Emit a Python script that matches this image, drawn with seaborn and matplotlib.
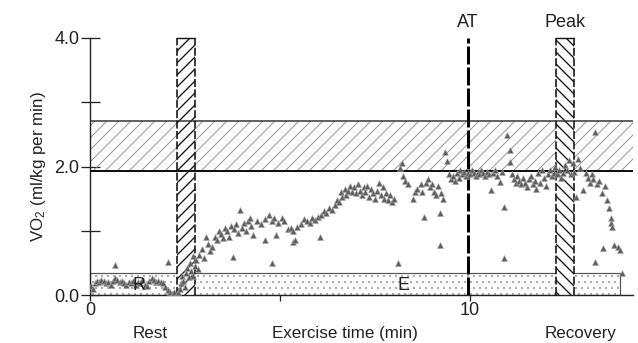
import matplotlib
matplotlib.use("Agg")
import matplotlib.pyplot as plt
import matplotlib.patches as mpatches
import matplotlib.transforms as mtransforms
import seaborn as sns
import pandas as pd

# ---------------- data ----------------
time_min = [
    0.02, 0.08, 0.13, 0.18, 0.24, 0.30, 0.36, 0.42, 0.48, 0.55, 0.60, 0.66, 0.72, 0.78, 0.84, 0.90,
    0.96, 1.02, 1.08, 1.14, 1.20, 1.26, 1.32, 1.38, 1.44, 1.50, 1.56, 1.62, 1.68, 1.74, 1.80, 1.86,
    1.92, 1.98, 2.04, 2.10, 2.16, 2.20, 0.66, 2.05,
    2.28, 2.32, 2.36, 2.40, 2.42, 2.46, 2.50, 2.52, 2.56, 2.60, 2.62, 2.66, 2.70, 2.72, 2.76, 2.80,
    2.84, 2.88,
    2.95, 3.00, 3.05, 3.10, 3.15, 3.20, 3.28, 3.35, 3.40, 3.45, 3.50, 3.55, 3.60, 3.65, 3.72, 3.78,
    3.85, 3.90, 3.95, 4.00, 4.05, 4.10, 4.15, 4.20, 4.25, 4.30, 4.40, 4.50, 4.60, 4.70, 4.78, 4.85,
    4.90, 4.95, 4.80, 3.76, 5.35, 4.60,
    5.05, 5.10, 5.20, 5.28, 5.35, 5.40, 5.45, 5.55, 5.62, 5.70, 5.78, 5.85, 5.92, 6.00, 6.05, 6.08,
    6.15, 6.22, 6.30, 6.38, 6.45, 6.50, 6.55, 6.60, 6.62, 6.70, 6.75, 6.80, 6.85, 6.90, 6.95, 7.00,
    7.05, 7.10, 7.15, 7.20, 7.25, 7.30, 7.35, 7.40, 7.45, 7.50, 7.55, 7.60, 7.65, 7.70, 7.75, 7.80,
    7.85, 7.90, 7.95, 8.00, 8.10,
    8.15, 8.20, 8.25, 8.30, 8.38, 8.50, 8.55, 8.60, 8.70, 8.75, 8.80, 8.85, 8.90, 8.95, 9.00, 9.05,
    9.10, 9.15, 9.20, 9.20, 9.25, 9.30, 9.35, 9.40, 9.45, 9.50, 9.55, 9.60, 9.65, 9.70, 9.75, 9.80,
    9.85, 9.90, 9.95,
    10.00, 10.05, 10.10, 10.15, 10.20, 10.25, 10.30, 10.35, 10.40, 10.45, 10.50, 10.55, 10.60, 10.65,
    10.70, 10.80, 10.85, 10.90, 10.90, 10.97, 11.05, 11.05, 11.10, 11.15, 11.20, 11.25, 11.30, 11.35,
    11.40, 11.45, 11.50, 11.55, 11.60, 11.65, 11.70, 11.75, 11.80, 11.85, 11.90, 11.95, 12.00, 12.05,
    12.10, 12.15, 12.20, 12.25, 12.30, 12.35, 12.40, 12.45, 12.50, 12.55, 12.60, 12.65, 12.70, 12.75,
    12.80, 12.85, 12.90, 12.97,
    13.05, 13.10, 13.15, 13.20, 13.25, 13.30, 13.30, 13.35, 13.40, 13.47, 13.50, 13.55, 13.60, 13.65,
    13.70, 13.72, 13.74, 13.80, 13.90, 13.95, 14.00,
]
vo2 = [
    0.14, 0.10, 0.18, 0.22, 0.20, 0.24, 0.22, 0.18, 0.20, 0.16, 0.22, 0.26, 0.24, 0.20, 0.22, 0.18,
    0.16, 0.20, 0.18, 0.22, 0.15, 0.20, 0.18, 0.24, 0.16, 0.14, 0.22, 0.26, 0.24, 0.20, 0.22, 0.20,
    0.18, 0.12, 0.08, 0.04, 0.02, 0.05, 0.46, 0.52,
    0.00, 0.05, 0.10, 0.18, 0.30, 0.22, 0.12, 0.35, 0.42, 0.28, 0.50, 0.38, 0.30, 0.60, 0.45, 0.55,
    0.40, 0.62,
    0.72, 0.58, 0.90, 0.80, 0.68, 0.75, 0.90, 0.85, 1.00, 0.95, 0.88, 1.05, 1.00, 0.90, 1.08, 1.02,
    1.10, 0.97, 1.32, 1.05, 1.12, 1.00, 1.15, 1.20, 1.08, 0.94, 1.15, 1.10, 1.18, 1.25, 1.15, 1.20,
    0.93, 1.12, 0.50, 0.59, 0.83, 0.86,
    1.20, 1.15, 1.02, 1.05, 1.00, 0.86, 1.06, 1.10, 1.18, 1.15, 1.12, 1.20, 1.16, 1.22, 0.90, 1.25,
    1.30, 1.28, 1.35, 1.32, 1.40, 1.48, 1.45, 1.60, 1.52, 1.65, 1.55, 1.62, 1.70, 1.60, 1.68, 1.58,
    1.72, 1.62, 1.55, 1.68, 1.60, 1.70, 1.52, 1.65, 1.58, 1.50, 1.62, 1.75, 1.55, 1.68, 1.50, 1.58,
    1.48, 1.55, 1.45, 1.50, 0.50,
    1.98, 2.05, 1.85, 1.78, 1.72, 1.50, 1.60, 1.65, 1.72, 1.60, 1.22, 1.75, 1.80, 1.68, 1.72, 1.60,
    1.55, 1.70, 1.27, 0.78, 1.58, 1.50, 2.22, 2.08, 1.88, 1.80, 1.85, 1.78, 1.90, 1.82, 1.95, 1.88,
    1.92, 1.85, 1.90,
    1.88, 1.95, 1.90, 1.85, 1.92, 1.88, 1.95, 1.90, 1.85, 1.92, 1.88, 1.63, 1.90, 1.95,
    1.85, 1.76, 1.92, 1.37, 0.58, 2.49, 2.26, 2.07, 1.88, 1.80, 1.75, 1.85, 1.78, 1.72,
    1.82, 1.75, 1.68, 1.80, 1.85, 1.72, 1.78, 1.65, 1.90, 1.75, 1.95, 1.82, 1.70, 1.88,
    1.95, 1.85, 1.90, 2.00, 1.88, 1.95, 1.82, 1.90, 2.02, 1.95, 2.10, 1.88, 2.05, 1.92,
    1.53, 2.12, 1.98, 1.63,
    1.90, 1.82, 1.75, 1.88, 1.80, 2.54, 0.52, 1.72, 1.78, 1.59, 0.73, 1.70, 1.48, 1.35,
    1.20, 1.12, 1.06, 0.78, 0.74, 0.70, 0.34,
]
df = pd.DataFrame({"time": time_min, "vo2": vo2})

hband = (1.93, 2.71)          # horizontal hatched band (VO2)
rest_band = (2.29, 2.76)      # dashed hatched band after rest
at_time = 9.95                # anaerobic threshold
peak_band = (12.26, 12.74)    # peak band
phase_box = (0.0, 13.95, 0.35)  # stippled phase box (x0, x1, height)
phase_letters = [("R", 1.3), ("E", 8.25)]
bottom_labels = [("Rest", 1.58), ("Exercise time (min)", 6.7), ("Recovery", 12.9)]
top_labels = [("AT", 9.95), ("Peak", 12.5)]

# ---------------- figure ----------------
sns.set_style("white")
plt.rcParams["font.family"] = ["Liberation Sans", "DejaVu Sans"]
DPI = 72
FS = 18
fig = plt.figure(figsize=(638 / DPI, 343 / DPI), dpi=DPI)
ax = fig.add_axes([90 / 638, 48 / 343, 543 / 638, 257 / 343])
ax.set_xlim(0, 543 / 38)
ax.set_ylim(0, 4.0)

def hatch_lw(p, lw):
    try:
        p.set_hatch_linewidth(lw)
    except Exception:
        pass

# horizontal hatched band
p = mpatches.Rectangle((0, hband[0]), 543 / 38, hband[1] - hband[0], facecolor="none",
                       edgecolor="#8a8a8a", hatch="//", linewidth=0, zorder=1)
hatch_lw(p, 0.9)
ax.add_patch(p)
ax.axhline(hband[0], color="#111111", lw=2.0, zorder=4)
ax.axhline(hband[1], color="#333333", lw=1.5, zorder=4)

# stippled phase box
p = mpatches.Rectangle((phase_box[0], 0), phase_box[1] - phase_box[0], phase_box[2],
                       facecolor="white", edgecolor="#a8a8a8", hatch="..", linewidth=0, zorder=1)
ax.add_patch(p)
ax.add_patch(mpatches.Rectangle((phase_box[0], 0), phase_box[1] - phase_box[0], phase_box[2],
                                facecolor="none", edgecolor="#555555", linewidth=1.2, zorder=2))

# vertical bands
for (x0, x1), h in [(rest_band, "//"), (peak_band, "\\\\")]:
    p = mpatches.Rectangle((x0, 0), x1 - x0, 4.0, facecolor="white", edgecolor="#111111",
                           hatch=h, linewidth=0, zorder=2)
    hatch_lw(p, 1.3)
    ax.add_patch(p)
    for xx in (x0, x1):
        ax.axvline(xx, color="#111111", lw=1.6, ls=(0, (5, 1.5)), zorder=5)
    ax.plot([x0, x1], [4.0, 4.0], color="#111111", lw=1.4, zorder=5, clip_on=False)

# AT line
ax.axvline(at_time, color="black", lw=3.0, ls=(0, (6, 1)), zorder=5)

# scatter
sns.scatterplot(data=df, x="time", y="vo2", marker="^", s=36, color="#5e5e5e",
                edgecolor="#a8a8a8", linewidth=0.5, ax=ax, zorder=6, legend=False)

for txt, xx in phase_letters:
    ax.text(xx, 0.15, txt, fontsize=FS, ha="center", va="center", color="#222222", zorder=7)

# axes styling
for s in ("top", "right"):
    ax.spines[s].set_visible(False)
for s in ("left", "bottom"):
    ax.spines[s].set_color("#222222")
    ax.spines[s].set_linewidth(1.4)
ax.set_yticks([0, 2, 4])
ax.set_yticklabels(["0.0", "2.0", "4.0"])
ax.set_yticks([1, 3], minor=True)
ax.set_xticks([0, 10])
ax.set_xticklabels(["0", "10"])
ax.set_xticks([5], minor=True)
ax.tick_params(axis="y", which="both", direction="inout", length=19, width=1.3,
               labelsize=FS, pad=1, colors="#222222", left=True)
ax.tick_params(axis="x", which="both", direction="out", length=6, width=1.3,
               labelsize=FS, pad=1, colors="#222222", bottom=True)
ax.set_xlabel("")
ax.set_ylabel(r"V$\mathregular{O_2}$ (ml/kg per min)", fontsize=17, color="#222222", labelpad=6)

trans = mtransforms.blended_transform_factory(ax.transData, ax.transAxes)
for txt, xx in bottom_labels:
    ax.text(xx, -0.148, txt, transform=trans, fontsize=17, ha="center", va="center",
            color="#222222", clip_on=False)
for txt, xx in top_labels:
    ax.text(xx, 1.062, txt, transform=trans, fontsize=FS, ha="center", va="center",
            color="#222222", clip_on=False)

fig.savefig("out.png", dpi=DPI)
